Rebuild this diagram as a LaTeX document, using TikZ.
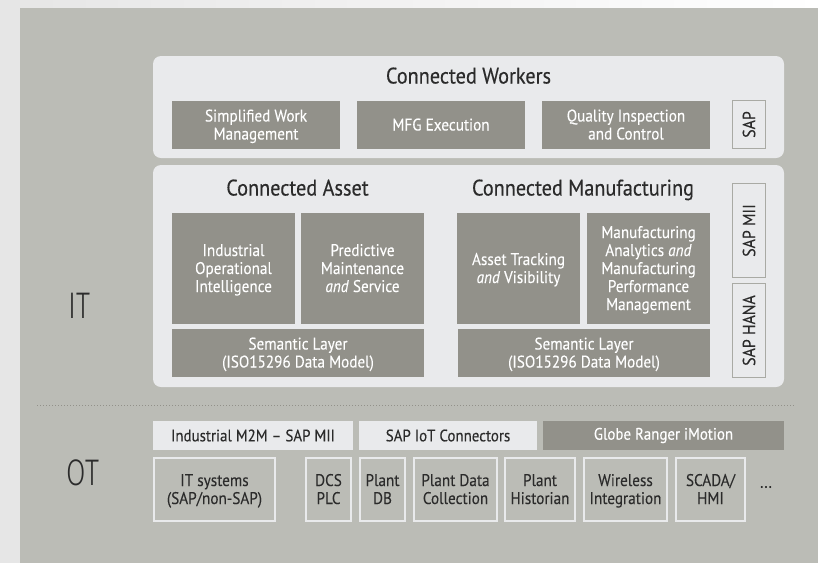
\documentclass[tikz,border=0pt]{standalone}
\usepackage{fontspec}
\setmainfont[FakeStretch=0.9,FakeBold=0.12]{PT Sans}
\newfontfamily\headfam[FakeStretch=0.9,FakeBold=0.35]{PT Sans}
\newfontfamily\barfam[FakeStretch=0.9,FakeBold=0.3]{PT Sans}
\newfontfamily\lightfam{Fira Sans Light}
\newcommand{\bodyfont}{\fontsize{16.9}{18}\selectfont}
\newcommand{\sapfont}{\fontsize{17.6}{18}\selectfont}
\newcommand{\headfont}{\headfam\fontsize{22.5}{22}\selectfont}
\newcommand{\barfont}{\barfam\fontsize{16.6}{18}\selectfont}
\newcommand{\bigfont}{\lightfam\fontsize{37}{40}\selectfont}
\newcommand{\topst}{\rule{0pt}{15pt}}
\newcommand{\botst}{\rule[-4pt]{0pt}{4pt}}
\definecolor{pagebg}{HTML}{F2F2F2}
\definecolor{stone}{HTML}{BBBCB6}
\definecolor{panel}{HTML}{E9EAEC}
\definecolor{dark}{HTML}{92918A}
\definecolor{inktext}{HTML}{2B2B2B}
\definecolor{frameline}{HTML}{A9AAA4}
\tikzset{
  x=1pt,y=-1pt,
  base/.style={inner sep=0pt,outer sep=0pt,align=center},
  panelbox/.style={base,fill=panel,rounded corners=8pt},
  darkbox/.style={base,fill=dark,text=white,font=\bodyfont},
  lightbar/.style={base,fill=panel,text=inktext,font=\barfont},
  darkbar/.style={base,fill=dark,text=white,font=\barfont},
  otbox/.style={base,draw=panel,line width=2pt,text=inktext,font=\bodyfont},
  sapbox/.style={base,draw=frameline,line width=1pt,fill=panel,text=inktext,font=\sapfont,rotate=90},
  heading/.style={base,text=inktext,font=\headfont,text height=15pt,text depth=5pt},
  biglabel/.style={base,text=inktext,font=\bigfont,xscale=0.76},
}
% name, style, x1, y1, x2, y2, text
\newcommand{\bx}[7]{%
  \pgfmathsetmacro{\cxv}{(#3+#5)/2}\pgfmathsetmacro{\cyv}{(#4+#6)/2}%
  \pgfmathsetmacro{\wv}{#5-#3}\pgfmathsetmacro{\hv}{#6-#4}%
  \node[#2,minimum width=\wv pt,minimum height=\hv pt] (#1) at (\cxv,\cyv) {#7};}
\newcommand{\vbx}[7]{%
  \pgfmathsetmacro{\cxv}{(#3+#5)/2}\pgfmathsetmacro{\cyv}{(#4+#6)/2}%
  \pgfmathsetmacro{\wv}{#5-#3}\pgfmathsetmacro{\hv}{#6-#4}%
  \node[#2,minimum width=\hv pt,minimum height=\wv pt] (#1) at (\cxv,\cyv) {#7};}
\begin{document}
\begin{tikzpicture}
\useasboundingbox (0,0) rectangle (821,563);
\fill[pagebg] (0,0) rectangle (821,563);
\shade[left color=pagebg!95!black,right color=white] (0,0) rectangle (821,8);
\fill[white] (818,8) rectangle (821,563);
\fill[pagebg!95!black] (0,8) rectangle (20,563);
\fill[stone] (20,8) rectangle (818,563);

\bx{workers}{panelbox}{153}{56}{784}{158}{}
\bx{assetpanel}{panelbox}{153}{165}{784}{387}{}

\node[heading] (workershead) at (468.5,78.5) {Connected Workers};
\node[heading] (assethead) at (297.5,190.5) {Connected Asset};
\node[heading] (mfghead) at (583,190.5) {Connected Manufacturing};

\bx{swm}{darkbox}{172}{101}{340}{149}{\topst Simplified Work\\Management\botst}
\bx{mfg}{darkbox}{357}{101}{525}{149}{\topst MFG Execution\botst}
\bx{qic}{darkbox}{542}{101}{710}{149}{\topst Quality Inspection\\and Control\botst}
\vbx{sap}{sapbox}{732.5}{100.5}{765.5}{148.5}{SAP}

\bx{iob}{darkbox}{172}{213}{295}{324}{\topst Industrial\\Operational\\Intelligence\botst}
\bx{pms}{darkbox}{301}{213}{424}{324}{\topst Predictive\\Maintenance\\\textit{and} Service\botst}
\bx{sem1}{darkbox}{172}{329}{424}{377}{\topst Semantic Layer\\(ISO15296 Data Model)\botst}

\bx{atv}{darkbox}{457}{213}{580}{324}{\topst Asset Tracking\\\textit{and} Visibility\botst}
\bx{mam}{darkbox}{587}{213}{710}{324}{\topst Manufacturing\\Analytics \textit{and}\\Manufacturing\\Performance\\Management\botst}
\bx{sem2}{darkbox}{458}{329}{710}{377}{\topst Semantic Layer\\(ISO15296 Data Model)\botst}

\vbx{sapmii}{sapbox}{732.5}{183.5}{765.5}{277.5}{SAP MII}
\vbx{saphana}{sapbox}{732.5}{283.5}{765.5}{377.5}{SAP HANA}

\node[biglabel] (it) at (79,306) {IT};
\node[biglabel] (ot) at (83,473) {OT};

\coordinate (dotl) at (37,405);
\coordinate (dotr) at (795,405);
\draw[line width=1pt,dash pattern=on 1pt off 2pt,color=dark] (dotl) -- (dotr);

\bx{m2m}{lightbar}{153}{421}{353}{450}{Industrial M2M – SAP MII}
\bx{iot}{lightbar}{359}{421}{537}{450}{SAP IoT Connectors}
\bx{globe}{darkbar}{543}{421}{784}{450}{Globe Ranger iMotion}

\bx{itsys}{otbox}{154}{458}{275}{521}{\topst IT systems\\(SAP/non-SAP)\botst}
\bx{dcs}{otbox}{306}{458}{351}{521}{\topst DCS\\PLC\botst}
\bx{pdb}{otbox}{360}{458}{405}{521}{\topst Plant\\DB\botst}
\bx{pdc}{otbox}{414}{458}{497}{521}{\topst Plant Data\\Collection\botst}
\bx{phist}{otbox}{505}{458}{575}{521}{\topst Plant\\Historian\botst}
\bx{wint}{otbox}{584}{458}{667}{521}{\topst Wireless\\Integration\botst}
\bx{scada}{otbox}{676}{458}{745}{521}{\topst SCADA/\\HMI\botst}
\node[base,text=inktext,font=\bodyfont] (more) at (766,487) {...};
\end{tikzpicture}
\end{document}
